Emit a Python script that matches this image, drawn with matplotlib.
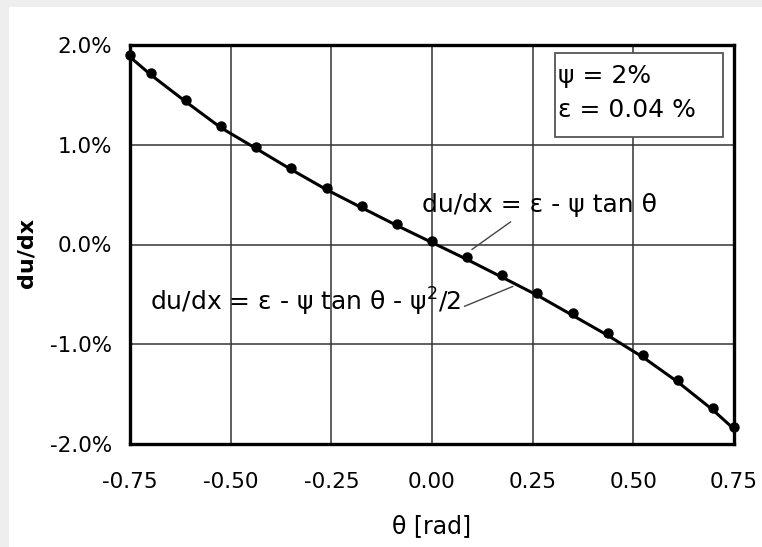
import matplotlib
matplotlib.use("Agg")
import matplotlib.pyplot as plt
from matplotlib.patches import Rectangle

plt.rcParams['font.family'] = ['DejaVu Sans']

# Data
theta = [-0.750, -0.698, -0.611, -0.524, -0.436, -0.349, -0.262, -0.175, -0.087,
         0.000, 0.087, 0.175, 0.262, 0.349, 0.436, 0.524, 0.611, 0.698, 0.750]
dudx_points = [1.90, 1.72, 1.45, 1.19, 0.98, 0.77, 0.57, 0.39, 0.21,
               0.04, -0.13, -0.31, -0.49, -0.69, -0.89, -1.11, -1.36, -1.64, -1.83]
dudx_line = [1.88, 1.70, 1.43, 1.17, 0.96, 0.75, 0.55, 0.37, 0.19,
             0.02, -0.15, -0.33, -0.51, -0.71, -0.91, -1.13, -1.38, -1.66, -1.85]

xticks = [-0.75, -0.50, -0.25, 0.00, 0.25, 0.50, 0.75]
xticklabels = ['-0.75', '-0.50', '-0.25', '0.00', '0.25', '0.50', '0.75']
yticks = [-2.0, -1.0, 0.0, 1.0, 2.0]
yticklabels = ['-2.0%', '-1.0%', '0.0%', '1.0%', '2.0%']

W, H = 762, 547
fig = plt.figure(figsize=(W / 100, H / 100), dpi=100)
fig.patch.set_facecolor('white')
# light grey scan border (top and left)
fig.patches.append(Rectangle((0, 1 - 7 / H), 1, 7 / H, transform=fig.transFigure,
                             facecolor='#eeeeee', edgecolor='none', zorder=0))
fig.patches.append(Rectangle((0, 0), 9 / W, 1, transform=fig.transFigure,
                             facecolor='#eeeeee', edgecolor='none', zorder=0))

ax = fig.add_axes([130 / W, 1 - 444 / H, (734 - 130) / W, (444 - 45) / H])
ax.set_xlim(-0.75, 0.75)
ax.set_ylim(-2.0, 2.0)

ax.plot(theta, dudx_line, color='black', lw=2.2, zorder=3)
ax.plot(theta, dudx_points, linestyle='none', marker='o', ms=6.5,
        color='black', zorder=4, clip_on=False)

ax.set_xticks(xticks)
ax.set_xticklabels(xticklabels)
ax.set_yticks(yticks)
ax.set_yticklabels(yticklabels)
ax.tick_params(axis='both', length=0, labelsize=15.5)
ax.tick_params(axis='x', pad=20)
ax.tick_params(axis='y', pad=13)
ax.grid(True, color='#333333', lw=1.1)
ax.set_axisbelow(True)
for s in ax.spines.values():
    s.set_linewidth(2.4)
    s.set_color('black')

ax.set_xlabel('θ [rad]', fontsize=17, labelpad=16)
ax.set_ylabel('du/dx', fontsize=16, fontweight='bold')
ax.yaxis.set_label_coords(-0.154, 0.48)

# parameter box
ax.add_patch(Rectangle((0.704, 0.769), 0.278, 0.211, transform=ax.transAxes,
                       facecolor='white', edgecolor='#555555', lw=1.3, zorder=5))
ax.text(0.313, 1.52, 'ψ = 2%\nε = 0.04 %', fontsize=18, va='center', ha='left',
        linespacing=1.5, zorder=6)

# annotations
ax.annotate('du/dx = ε - ψ tan θ', xy=(0.099, -0.05), xytext=(0.266, 0.40),
            fontsize=18, ha='center', va='center', zorder=5,
            arrowprops=dict(arrowstyle='-', color='#444444', lw=1.0,
                            shrinkA=3, shrinkB=0, relpos=(0.41, 0.0)))
ax.annotate('du/dx = ε - ψ tan θ - ψ$^2$/2', xy=(0.201, -0.42), xytext=(-0.313, -0.58),
            fontsize=18, ha='center', va='center', zorder=5,
            arrowprops=dict(arrowstyle='-', color='#444444', lw=1.0,
                            shrinkA=0, shrinkB=0, relpos=(0.99, 0.3)))

fig.savefig('out.png', dpi=100)
